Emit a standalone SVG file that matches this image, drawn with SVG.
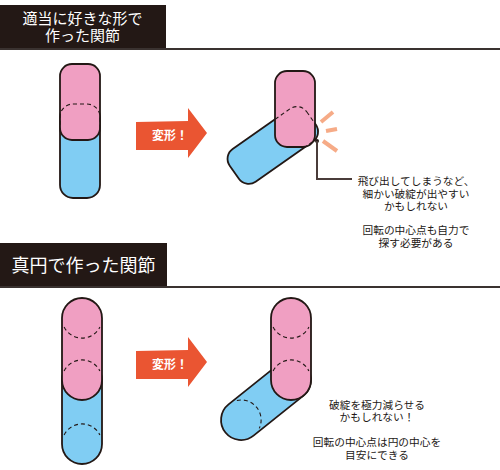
<svg xmlns="http://www.w3.org/2000/svg" width="500" height="470" viewBox="0 0 500 470">
<style>
.hdr{fill:#231815}
.hline{stroke:#3a3230;stroke-width:2;fill:none}
.ht{fill:#fff;font-family:"Noto Sans CJK JP","Noto Sans",sans-serif;text-anchor:middle}
.pink{fill:#f09fc2;stroke:#231815;stroke-width:1.8}
.blue{fill:#80cdf3;stroke:#231815;stroke-width:1.8}
.dash{fill:none;stroke:#231815;stroke-width:1.1;stroke-dasharray:4 3}
.arrow{fill:#ea5532}
.at{fill:#fff;font-family:"Noto Sans CJK JP","Noto Sans",sans-serif;font-size:12px;font-weight:bold;text-anchor:middle}
.note{fill:#231815;font-family:"Noto Sans CJK JP","Noto Sans",sans-serif;font-size:10.7px;text-anchor:middle}
.burst{stroke:#f6ab87;stroke-width:4;fill:none}
.ptr{stroke:#4a3c3a;stroke-width:2;fill:none}
</style>
<defs>
<clipPath id="c1"><rect x="60" y="64" width="40" height="76" rx="12"/></clipPath>
<clipPath id="c2"><rect x="275" y="71" width="40" height="76" rx="12"/></clipPath>
<polygon id="arr" points="136,122 188,121 188,108 207,133 188,158 188,150 136,150"/>
</defs>

<g id="header1">
<rect class="hdr" x="0" y="5" width="166" height="45"/>
<line class="hline" x1="0" y1="49" x2="500" y2="49"/>
<text class="ht" x="82.5" y="24" font-size="15">適当に好きな形で</text>
<text class="ht" x="82.5" y="41" font-size="15">作った関節</text>
</g>

<g id="header2">
<rect class="hdr" x="0" y="243" width="167" height="45"/>
<line class="hline" x1="0" y1="287" x2="500" y2="287"/>
<text class="ht" x="83.5" y="272" font-size="18">真円で作った関節</text>
</g>

<g id="joint1-before">
<rect class="blue" x="60" y="104" width="40" height="94" rx="13"/>
<rect class="pink" x="60" y="64" width="40" height="76" rx="12"/>
<g clip-path="url(#c1)"><rect class="dash" x="60" y="104" width="40" height="94" rx="13"/></g>
</g>

<g id="arrow1">
<use href="#arr" class="arrow"/>
<text class="at" x="170" y="139.5">変形！</text>
</g>

<g id="joint1-after">
<rect class="blue" x="-20" y="0" width="40" height="94" rx="12" transform="translate(311.3,118.3) rotate(55)"/>
<rect class="pink" x="275" y="71" width="40" height="76" rx="12"/>
<g clip-path="url(#c2)"><rect class="dash" x="-20" y="0" width="40" height="94" rx="12" transform="translate(311.3,118.3) rotate(55)"/></g>
</g>

<g id="burst">
<line class="burst" x1="321" y1="122" x2="333" y2="112"/>
<line class="burst" x1="326" y1="131" x2="337" y2="129"/>
<line class="burst" x1="323" y1="141" x2="337" y2="151"/>
</g>

<g id="connectors">
<circle cx="317" cy="141" r="2" fill="#231815"/>
<polyline class="ptr" points="317,141 317,179 352,179"/>
</g>

<g id="note1">
<text class="note" x="416" y="185">飛び出してしまうなど、</text>
<text class="note" x="416" y="197.5">細かい破綻が出やすい</text>
<text class="note" x="416" y="210">かもしれない</text>
<text class="note" x="416" y="234">回転の中心点も自力で</text>
<text class="note" x="416" y="246.5">探す必要がある</text>
</g>

<g id="joint2-before">
<rect class="blue" x="62" y="360" width="40" height="104" rx="20"/>
<rect class="pink" x="62" y="298" width="40" height="102" rx="20"/>
<path class="dash" d="M64.1,327 A20,20 0 0 0 99.9,327"/>
<path class="dash" d="M64.1,371 A20,20 0 0 1 99.9,371"/>
<path class="dash" d="M64.1,435 A20,20 0 0 1 99.9,435"/>
</g>

<g id="arrow2">
<use href="#arr" class="arrow" transform="translate(0,229)"/>
<text class="at" x="170" y="368.5">変形！</text>
</g>

<g id="joint2-after">
<g transform="translate(291,380) rotate(51.3)">
<rect class="blue" x="-20" y="-20" width="40" height="104" rx="20"/>
</g>
<rect class="pink" x="271" y="298" width="40" height="102" rx="20"/>
<path class="dash" d="M273.1,327 A20,20 0 0 0 308.9,327"/>
<path class="dash" d="M273.1,371 A20,20 0 0 1 308.9,371"/>
<g transform="translate(291,380) rotate(51.3)">
<path class="dash" d="M-17.9,55 A20,20 0 0 1 17.9,55"/>
</g>
</g>

<g id="note2">
<text class="note" x="377" y="408.5">破綻を極力減らせる</text>
<text class="note" x="377" y="421">かもしれない！</text>
<text class="note" x="377" y="446">回転の中心点は円の中心を</text>
<text class="note" x="377" y="458.5">目安にできる</text>
</g>
</svg>
